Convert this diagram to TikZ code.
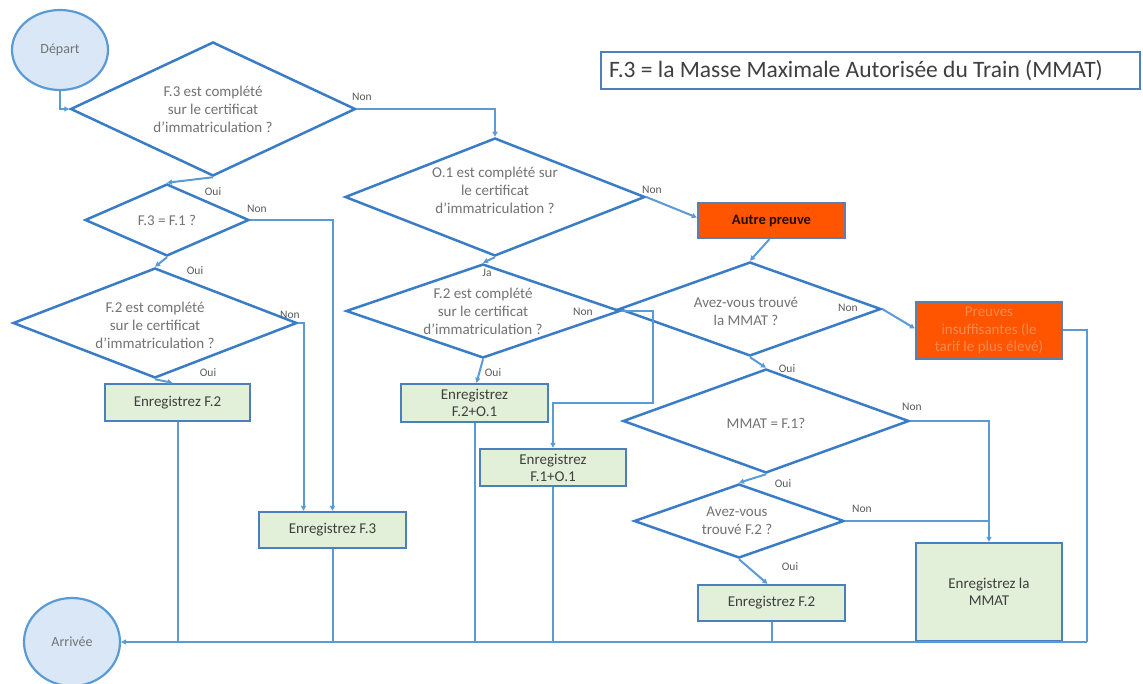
\documentclass[tikz,border=0pt]{standalone}
\usepackage{fontspec}
\setmainfont{Carlito}
\usetikzlibrary{shapes.geometric,arrows.meta}
\definecolor{lineblue}{HTML}{5B9BD5}
\definecolor{dborder}{HTML}{3A7DC6}
\definecolor{bborder}{HTML}{4A80BE}
\definecolor{gfill}{HTML}{E2F0D9}
\definecolor{cfill}{HTML}{DAE7F6}
\definecolor{ofill}{HTML}{FF5500}
\definecolor{otext}{HTML}{F58A4E}
\definecolor{dtext}{HTML}{737373}
\definecolor{btext}{HTML}{3F3F3F}
\definecolor{ltext}{HTML}{5A5A5A}
\tikzset{
  conn/.style={draw=lineblue, line width=2pt},
  arw/.style={-{Triangle[length=5pt,width=5pt]}},
  term/.style={ellipse, draw=lineblue, line width=2.2pt, fill=cfill, text=dtext,
    font=\fontsize{14}{16}\selectfont, inner sep=0pt},
  dia/.style 2 args={diamond, draw=dborder, line width=2.5pt,
    minimum width=#1pt, minimum height=#2pt, inner sep=0pt},
  dtxt/.style={align=center, text=dtext, font=\fontsize{15}{18}\selectfont},
  gbox/.style 2 args={rectangle, draw=bborder, line width=2.3pt, fill=gfill,
    minimum width=#1pt, minimum height=#2pt, inner sep=0pt, align=center,
    text=btext, font=\fontsize{15}{17}\selectfont},
  obox/.style 2 args={rectangle, draw=bborder!70!gray, line width=2.3pt, fill=ofill,
    minimum width=#1pt, minimum height=#2pt, inner sep=0pt, align=center,
    font=\fontsize{15}{17.5}\selectfont},
  lbl/.style={text=ltext, font=\fontsize{11.5}{13}\selectfont, inner sep=0pt},
}
\begin{document}
\begin{tikzpicture}[x=1pt,y=-1pt]
\useasboundingbox (0,0) rectangle (1143,684);
\fill[white] (0,0) rectangle (1143,684);

% title box
\node[rectangle, draw=bborder, line width=2pt, minimum width=539pt, minimum height=37pt,
  inner sep=0pt] (title) at (870.5,70.5) {};
\node[anchor=west, text=btext, font=\fontsize{23.5}{27}\selectfont, inner sep=0pt]
  (titletxt) at (609,70.5) {F.3 = la Masse Maximale Autorisée du Train (MMAT)};

% terminals
\node[term, minimum width=96pt, minimum height=80pt] (dep) at (60,50) {Départ};
\node[term, minimum width=96pt, minimum height=88pt] (arrivee) at (72,642) {Arrivée};

% decisions
\node[dia={285}{134}, label={[dtxt]center:{F.3 est complété\\sur le certificat\\d’immatriculation ?}}] (d1) at (213,109) {};
\node[dia={300}{118}, label={[dtxt,yshift=7pt]center:{O.1 est complété sur\\le certificat\\d’immatriculation ?}}] (d2) at (495,197) {};
\node[dia={164}{72}, label={[dtxt]center:{F.3 = F.1 ?}}] (d3) at (167,220) {};
\node[dia={284}{110}, label={[dtxt,yshift=-2pt]center:{F.2 est complété\\sur le certificat\\d’immatriculation ?}}] (d8) at (155,323) {};
\node[dia={274}{94}, label={[dtxt]center:{F.2 est complété\\sur le certificat\\d’immatriculation ?}}] (d4) at (483,311) {};
\node[dia={262}{94}, label={[dtxt,xshift=-4pt,yshift=-2pt]center:{Avez-vous trouvé\\la MMAT ?}}] (d5) at (750,309) {};
\node[dia={286}{104}, label={[dtxt,yshift=-2pt]center:{MMAT = F.1?}}] (d6) at (766,421) {};
\node[dia={210}{74}, label={[dtxt,xshift=-2pt]center:{Avez-vous\\trouvé F.2 ?}}] (d7) at (739,521) {};

% boxes
\node[gbox={145}{37}] (f2l) at (177.5,402.5) {Enregistrez F.2};
\node[gbox={147}{36}] (f3) at (332.5,530) {Enregistrez F.3};
\node[gbox={147}{38}] (f2o1) at (474.5,403) {Enregistrez\\F.2+O.1};
\node[gbox={146}{37}] (f1o1) at (553,467.5) {Enregistrez\\F.1+O.1};
\node[obox={147}{35}, text=black!85!ofill, font=\bfseries\fontsize{14.5}{17}\selectfont] (autre) at (771.5,220.5) {Autre preuve};
\node[obox={146}{57}, text=otext] (prv) at (989,330.5) {Preuves\\insuffisantes (le\\tarif le plus élevé)};
\node[gbox={147}{36}] (f2r) at (771.5,603) {Enregistrez F.2};
\node[gbox={146}{98}] (mmat) at (989,592) {Enregistrez la\\MMAT};

% helper coordinates
\coordinate (bus) at (1087,642);
\coordinate (k1) at (653,403);

% connectors
\draw[conn,arw] (dep.south) |- (d1.west);
\draw[conn,arw] (d1.east) -| (d2.north);
\draw[conn,arw] (d1.south) -- (d3.north);
\draw[conn,arw] (d3.east) -| (f3.north);
\draw[conn,arw] (d3.south) -- (d8.north);
\draw[conn,arw] (d8.east) -| ([xshift=-29pt]f3.north);
\draw[conn,arw] (d8.south) -- ([xshift=-5pt]f2l.north);
\draw[conn] (f2l.south) -- (f2l.south |- bus);
\draw[conn] (f3.south) -- (f3.south |- bus);
\draw[conn,arw] (d2.south) -- (d4.north);
\draw[conn,arw] (d2.east) -- ([yshift=3pt]autre.west);
\draw[conn,arw] (d4.south) -- ([xshift=2pt]f2o1.north);
\draw[conn,arw] (d4.east) -| (k1) -| (f1o1.north);
\draw[conn] (f2o1.south) -- (f2o1.south |- bus);
\draw[conn] (f1o1.south) -- (f1o1.south |- bus);
\draw[conn,arw] ([xshift=-2pt]autre.south) -- (d5.north);
\draw[conn,arw] (d5.east) -- ([yshift=2pt]prv.west);
\draw[conn,arw] (d5.south) -- (d6.north);
\draw[conn] (prv.east) -| (bus);
\draw[conn,arw] (d6.east) -| (mmat.north);
\draw[conn,arw] (d6.south) -- (d7.north);
\draw[conn] (d7.east) -- (d7.east -| mmat.north);
\draw[conn,arw] (d7.south) -- ([xshift=-4pt]f2r.north);
\draw[conn] (f2r.south) -- (f2r.south |- bus);
\draw[conn,arw] (bus) -- (arrivee.east);

% branch labels
\node[lbl] (n1) at (362,97) {Non};
\node[lbl] (o1) at (213,192) {Oui};
\node[lbl] (n3) at (257,209) {Non};
\node[lbl] (o3) at (195,271) {Oui};
\node[lbl] (n8) at (290,315) {Non};
\node[lbl] (o8) at (208,373) {Oui};
\node[lbl] (n2) at (652,190) {Non};
\node[lbl] (j2) at (487,273) {Ja};
\node[lbl] (n4) at (583,312) {Non};
\node[lbl] (o4) at (493,373) {Oui};
\node[lbl] (n5) at (848,308) {Non};
\node[lbl] (o5) at (787,369) {Oui};
\node[lbl] (n6) at (912,407) {Non};
\node[lbl] (o6) at (783,484) {Oui};
\node[lbl] (n7) at (862,509) {Non};
\node[lbl] (o7) at (790,567) {Oui};
\end{tikzpicture}
\end{document}
